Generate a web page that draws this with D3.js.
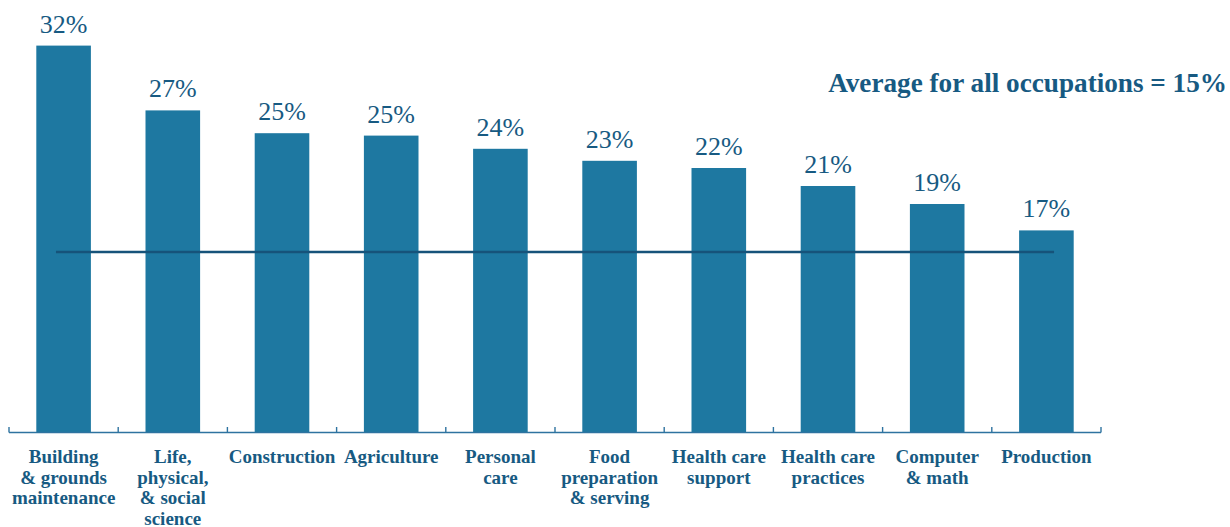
<!DOCTYPE html>
<html><head><meta charset="utf-8">
<script src="https://cdn.jsdelivr.net/npm/d3@7"></script>
<style>body{margin:0;background:#fff}svg{display:block}</style>
</head><body>
<svg id="c" width="1230" height="527"></svg>
<script>
const categories = [
  ["Building","& grounds","maintenance"],
  ["Life,","physical,","& social","science"],
  ["Construction"],
  ["Agriculture"],
  ["Personal","care"],
  ["Food","preparation","& serving"],
  ["Health care","support"],
  ["Health care","practices"],
  ["Computer","& math"],
  ["Production"]
];
const values = [32.2, 26.8, 24.9, 24.7, 23.6, 22.6, 22.0, 20.5, 19.0, 16.8];
const valueLabels = ["32%","27%","25%","25%","24%","23%","22%","21%","19%","17%"];
const average = 15;
const averageLabel = "Average for all occupations = 15%";

const svg = d3.select("#c");
const barColor = "#1e78a1", textColor = "#175a82", lineColor = "#16537a";
const font = '"Liberation Serif"';
const ids = d3.range(categories.length);

const x = d3.scaleBand().domain(ids).range([9, 1101]).paddingInner(0.5).paddingOuter(0.25);
const y = d3.scaleLinear().domain([0, 36]).range([432, 0]);

svg.append("g").selectAll("rect").data(ids).join("rect")
  .attr("x", i => x(i)).attr("width", x.bandwidth())
  .attr("y", i => y(values[i])).attr("height", i => y(0) - y(values[i]))
  .attr("fill", barColor);

const ax = svg.append("g").attr("transform", `translate(0,${y(0)})`);
ax.append("line").attr("x1", 9).attr("x2", 1101).attr("y1", 0.5).attr("y2", 0.5)
  .attr("stroke", "#2e73a0").attr("stroke-width", 1.6);
const bounds = ids.map(i => x(i) - x.step() * x.paddingInner() / 2).concat([1101]);
bounds[0] = 9;
ax.selectAll("line.t").data(bounds).join("line").attr("class","t")
  .attr("x1", d => d).attr("x2", d => d).attr("y1", 0.5).attr("y2", -5)
  .attr("stroke", "#2e73a0").attr("stroke-width", 1.4);

svg.append("g").selectAll("text").data(ids).join("text")
  .attr("x", i => x(i) + x.bandwidth() / 2).attr("y", i => y(values[i]) - 13)
  .attr("text-anchor", "middle").attr("fill", textColor)
  .style("font-family", font).style("font-size", "26px")
  .text(i => valueLabels[i]);

const cg = svg.append("g").selectAll("text").data(ids).join("text")
  .attr("text-anchor", "middle").attr("fill", textColor)
  .style("font-family", font).style("font-size", "19px").style("font-weight", "bold");
cg.each(function(i) {
  const t = d3.select(this);
  categories[i].forEach((ln, k) => {
    t.append("tspan").attr("x", x(i) + x.bandwidth() / 2).attr("y", 463 + k * 20.5).text(ln);
  });
});

svg.append("line")
  .attr("x1", x(0) + x.bandwidth() * 0.36).attr("x2", x(ids.length - 1) + x.bandwidth() * 0.64)
  .attr("y1", y(average)).attr("y2", y(average))
  .attr("stroke", lineColor).attr("stroke-width", 2.5);

const avg = svg.append("text").attr("x", 1227).attr("y", 92).attr("text-anchor", "end")
  .attr("fill", textColor).style("font-family", font).style("font-size", "28px").style("font-weight", "bold")
  .text(averageLabel);
const w = avg.node().getComputedTextLength();
if (w > 0) avg.style("font-size", (28 * 399 / w).toFixed(2) + "px");
</script>
</body></html>
